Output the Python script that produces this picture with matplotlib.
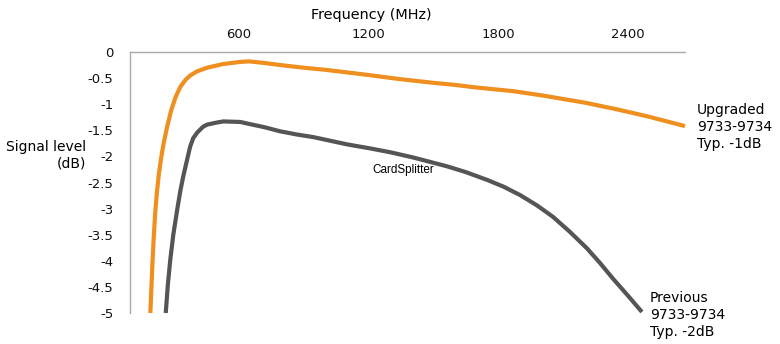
import matplotlib
matplotlib.use("Agg")
import matplotlib.pyplot as plt

plt.rcParams["font.family"] = ["DejaVu Sans"]

# values
upgraded_freq = [194, 198, 203, 209, 216, 224, 233, 243, 254, 272, 290, 310, 332, 355, 378, 410, 457, 531,
                 609, 650, 720, 794, 900, 1000, 1100, 1200, 1347, 1500, 1600, 1700, 1869, 2000, 2100,
                 2200, 2350, 2487, 2580, 2663]
upgraded_db = [-5.0, -4.6, -4.1, -3.6, -3.1, -2.7, -2.35, -2.05, -1.78, -1.42, -1.12, -0.87, -0.67, -0.54, -0.45,
               -0.37, -0.30, -0.23, -0.19, -0.18, -0.21, -0.25, -0.30, -0.34, -0.39, -0.44, -0.52, -0.59,
               -0.63, -0.68, -0.75, -0.83, -0.90, -0.97, -1.10, -1.23, -1.33, -1.42]

previous_freq = [265, 275, 286, 300, 318, 332, 346, 365, 378, 392, 411, 438, 457, 503, 531, 609, 641, 720,
                 794, 870, 946, 1103, 1200, 1301, 1407, 1564, 1650, 1749, 1825, 1901, 1980, 2054, 2130,
                 2210, 2270, 2330, 2400, 2464]
previous_db = [-5.0, -4.45, -3.98, -3.5, -3.02, -2.67, -2.38, -2.04, -1.81, -1.65, -1.54, -1.43, -1.39, -1.35,
               -1.33, -1.34, -1.37, -1.44, -1.52, -1.58, -1.63, -1.77, -1.84, -1.92, -2.02, -2.19, -2.30,
               -2.45, -2.58, -2.74, -2.94, -3.16, -3.44, -3.76, -4.04, -4.34, -4.67, -4.98]

x_ticks = [600, 1200, 1800, 2400]
y_ticks = [0, -0.5, -1, -1.5, -2, -2.5, -3, -3.5, -4, -4.5, -5]
y_ticklabels = ["0", "-0.5", "-1", "-1.5", "-2", "-2.5", "-3", "-3.5", "-4", "-4.5", "-5"]

W, H = 780, 344
fig = plt.figure(figsize=(W / 100, H / 100), dpi=100)
ax = fig.add_axes([130 / W, 1 - 313 / H, (685 - 130) / W, (313 - 52) / H])

ax.plot(upgraded_freq, upgraded_db, color="#ee8f1f", lw=3, solid_capstyle="butt",
        solid_joinstyle="round", clip_on=False)
ax.plot(previous_freq, previous_db, color="#555555", lw=3, solid_capstyle="butt",
        solid_joinstyle="round", clip_on=False)

ax.set_xlim(100, 2663)
ax.set_ylim(-5, 0)
ax.xaxis.tick_top()
ax.set_xticks(x_ticks)
ax.set_yticks(y_ticks)
ax.set_yticklabels(y_ticklabels)
ax.tick_params(length=0, labelsize=9.5, colors="#111111")
ax.tick_params(axis="x", pad=8)
ax.tick_params(axis="y", pad=12)

for s in ["right", "bottom"]:
    ax.spines[s].set_visible(False)
for s in ["left", "top"]:
    ax.spines[s].set_color("#aaaaaa")
    ax.spines[s].set_linewidth(1)

fig.text(371 / W, 1 - 15 / H, "Frequency (MHz)", ha="center", va="center", fontsize=10.4)
fig.text(86 / W, 1 - 155 / H, "Signal level\n(dB)", ha="right", va="center", fontsize=10,
         multialignment="right", linespacing=1.25)
fig.text(697 / W, 1 - 127 / H, "Upgraded\n9733-9734\nTyp. -1dB", ha="left", va="center",
         fontsize=10, linespacing=1.25)
fig.text(650 / W, 1 - 315 / H, "Previous\n9733-9734\nTyp. -2dB", ha="left", va="center",
         fontsize=10, linespacing=1.25)
fig.text(403 / W, 1 - 170 / H, "CardSplitter", ha="center", va="center", fontsize=8.5,
         family=["Liberation Sans"])

fig.savefig("out.png", dpi=100)
